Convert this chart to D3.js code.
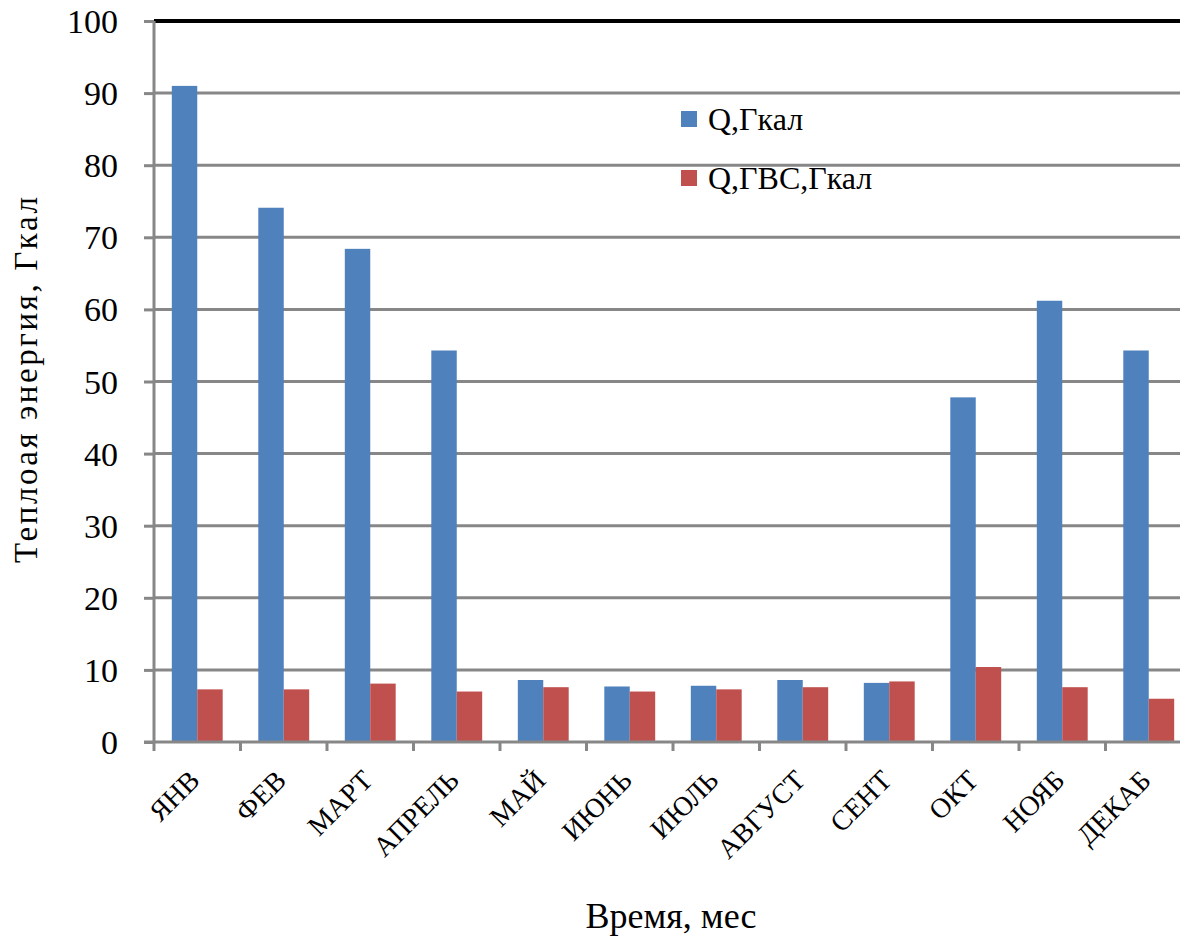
<!DOCTYPE html>
<html><head><meta charset="utf-8">
<script src="https://cdn.jsdelivr.net/npm/d3@7/dist/d3.min.js"></script>
</head><body style="margin:0"><svg id="c" width="1180" height="939" font-family="Liberation Serif" style="font-family:'Liberation Serif'"></svg>
<script>
const months = ["ЯНВ","ФЕВ","МАРТ","АПРЕЛЬ","МАЙ","ИЮНЬ","ИЮЛЬ","АВГУСТ","СЕНТ","ОКТ","НОЯБ","ДЕКАБ"];
const seriesNames = ["Q,Гкал","Q,ГВС,Гкал"];
const qValues = [91.0,74.1,68.4,54.3,8.6,7.7,7.8,8.6,8.2,47.8,61.2,54.3];
const qGvsValues = [7.3,7.3,8.1,7.0,7.6,7.0,7.3,7.6,8.4,10.4,7.6,6.0];
const yTicks = [0,10,20,30,40,50,60,70,80,90,100];
const colors = ["#4F81BD","#C0504D"];

const svg = d3.select("#c");
const x0 = 154, x1 = 154 + 86.5*12, yTop = 21, yBot = 742;
const x = d3.scaleBand().domain(months).range([x0,x1]).paddingInner(0).paddingOuter(0);
const y = d3.scaleLinear().domain([0,100]).range([yBot,yTop]);
const groupW = x.bandwidth()/1.7;
const xs = d3.scaleBand().domain([0,1]).range([0,groupW]);

// gridlines
svg.append("g").selectAll("line").data(yTicks.filter(t=>t>0)).join("line")
  .attr("x1",x0).attr("x2",1180).attr("y1",d=>y(d)).attr("y2",d=>y(d))
  .attr("stroke",d=>d===100?"#000":"#878787").attr("stroke-width",d=>d===100?4:3);

// bars
const data = months.map((m,i)=>({m, v:[qValues[i],qGvsValues[i]]}));
const g = svg.append("g");
data.forEach(d=>{
  d.v.forEach((v,k)=>{
    g.append("rect")
      .attr("x", x(d.m) + (x.bandwidth()-groupW)/2 + xs(k))
      .attr("width", xs.bandwidth())
      .attr("y", y(v)).attr("height", y(0)-y(v))
      .attr("fill", colors[k]);
  });
});

// y axis
const yAxis = d3.axisLeft(y).tickValues(yTicks).tickSize(10).tickPadding(26);
const ya = svg.append("g").attr("transform",`translate(${x0},0)`).call(yAxis)
  .attr("font-family","Liberation Serif").attr("font-size",34);
ya.select(".domain").attr("stroke","#878787").attr("stroke-width",3).attr("d",`M0,${yTop}V${yBot}`);
ya.selectAll(".tick line").attr("stroke","#878787").attr("stroke-width",3);
ya.selectAll(".tick text").attr("fill","#000").attr("dy","0.34em");

// x axis
const xa = svg.append("g").attr("transform",`translate(0,${yBot})`);
xa.append("line").attr("x1",x0-10).attr("x2",1180).attr("y1",0).attr("y2",0)
  .attr("stroke","#878787").attr("stroke-width",3);
const bounds = months.map(m=>x(m)).concat([x1]);
xa.selectAll("line.t").data(bounds).join("line").attr("class","t")
  .attr("x1",d=>d).attr("x2",d=>d).attr("y1",0).attr("y2",9)
  .attr("stroke","#878787").attr("stroke-width",3);
xa.selectAll("text").data(months).join("text")
  .attr("transform",d=>`translate(${x(d)+x.bandwidth()/2+4},${40}) rotate(-45)`)
  .attr("text-anchor","end").attr("font-size",28).text(d=>d);

// axis titles
svg.append("text").attr("transform","translate(37,380) rotate(-90)")
  .attr("text-anchor","middle").attr("font-size",33)
  .attr("textLength",366).attr("lengthAdjust","spacing")
  .text("Теплоая энергия, Гкал");
svg.append("text").attr("x",671).attr("y",928).attr("text-anchor","middle")
  .attr("font-size",36).text("Время, мес");

// legend
const leg = svg.append("g");
seriesNames.forEach((n,i)=>{
  const cy = 119 + i*59;
  leg.append("rect").attr("x",681).attr("y",cy-8).attr("width",16).attr("height",16).attr("fill",colors[i]);
  leg.append("text").attr("x",708).attr("y",cy+11).attr("font-size",32).text(n);
});
</script></body></html>
